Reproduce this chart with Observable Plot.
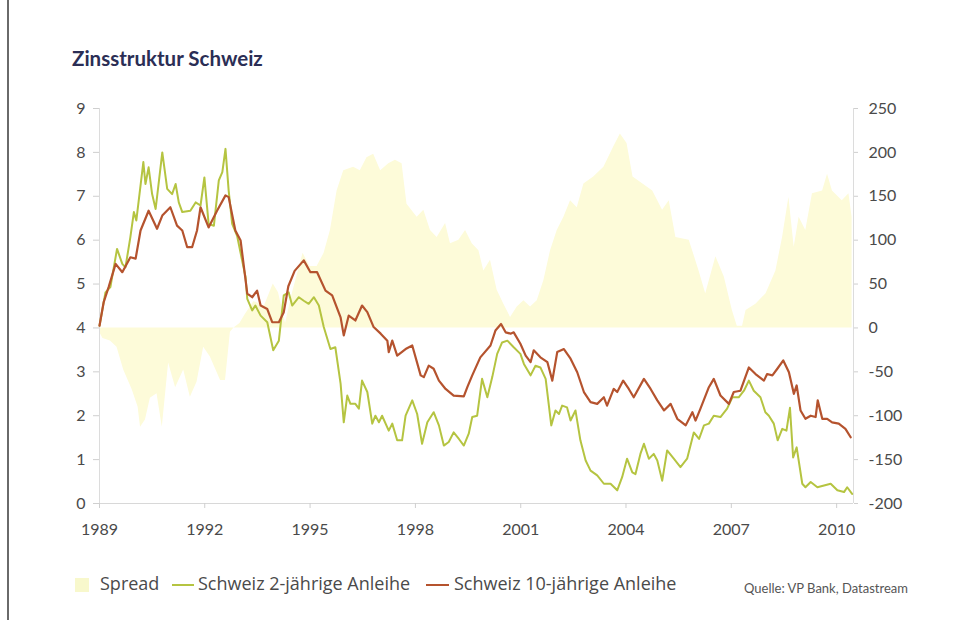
<!DOCTYPE html>
<html><head><meta charset="utf-8">
<script src="https://cdn.jsdelivr.net/npm/d3@7"></script>
<script src="https://cdn.jsdelivr.net/npm/@observablehq/plot@0.6"></script>
<style>
body{margin:0;background:#fff;font-family:Lato,"Open Sans",sans-serif;}
#page{position:relative;width:973px;height:620px;overflow:hidden;background:#fff;}
#border{position:absolute;left:7px;top:0;width:2px;height:620px;background:#6a6a6a;}
#title{position:absolute;left:72px;top:46px;font-size:20.5px;font-weight:700;color:#2b2e55;white-space:nowrap;}
#chart{position:absolute;left:0;top:90px;}
.lg{position:absolute;top:571px;font-family:"Open Sans",sans-serif;font-size:18px;color:#4a4a4a;white-space:nowrap;}
.sw{position:absolute;}
#src{position:absolute;left:744px;top:580px;font-size:13px;color:#555;white-space:nowrap;}
</style></head>
<body><div id="page">
<div id="border"></div>
<div id="title">Zinsstruktur Schweiz</div>
<div id="chart"></div>
<div class="sw" style="left:75px;top:578px;width:14px;height:14px;background:#f8f8cc;"></div>
<div class="lg" style="left:100px;">Spread</div>
<div class="sw" style="left:172px;top:584px;width:22px;height:2px;background:#b5c441;"></div>
<div class="lg" style="left:198px;">Schweiz 2-jährige Anleihe</div>
<div class="sw" style="left:426px;top:584px;width:23px;height:2px;background:#b5532e;"></div>
<div class="lg" style="left:454px;">Schweiz 10-jährige Anleihe</div>
<div id="src">Quelle: VP Bank, Datastream</div>
</div>
<script>
// 10-year bond yield (%)
const years10 = [1989.00,1989.12,1989.26,1989.46,1989.65,1989.88,1990.03,1990.17,1990.40,1990.64,1990.79,1991.02,1991.21,1991.36,1991.50,1991.64,1991.78,1991.88,1992.11,1992.35,1992.59,1992.68,1992.87,1993.02,1993.21,1993.35,1993.49,1993.59,1993.78,1993.92,1994.11,1994.25,1994.38,1994.56,1994.82,1995.01,1995.20,1995.44,1995.63,1995.87,1995.96,1996.10,1996.29,1996.48,1996.63,1996.81,1997.01,1997.20,1997.24,1997.34,1997.48,1997.72,1997.91,1998.15,1998.24,1998.38,1998.52,1998.67,1998.86,1999.09,1999.38,1999.48,1999.62,1999.85,2000.14,2000.28,2000.44,2000.57,2000.71,2000.80,2000.99,2001.14,2001.28,2001.37,2001.56,2001.76,2001.90,2002.04,2002.23,2002.42,2002.61,2002.80,2002.99,2003.18,2003.37,2003.46,2003.65,2003.75,2003.92,2004.08,2004.22,2004.51,2004.70,2004.89,2005.08,2005.27,2005.46,2005.70,2005.89,2005.98,2006.12,2006.36,2006.50,2006.69,2006.93,2007.07,2007.26,2007.50,2007.69,2007.93,2008.02,2008.17,2008.31,2008.48,2008.64,2008.78,2008.86,2008.97,2009.11,2009.26,2009.40,2009.46,2009.59,2009.73,2009.87,2010.06,2010.25,2010.40];
const yield10 = [4.05,4.59,4.93,5.46,5.27,5.61,5.58,6.22,6.67,6.26,6.56,6.75,6.33,6.22,5.84,5.84,6.22,6.75,6.29,6.67,7.02,6.98,6.22,5.99,4.78,4.70,4.85,4.51,4.43,4.13,4.13,4.36,4.95,5.30,5.54,5.27,5.27,4.85,4.74,4.24,3.83,4.28,4.17,4.51,4.36,4.02,3.87,3.71,3.45,3.71,3.37,3.52,3.60,2.92,2.88,3.14,3.07,2.80,2.61,2.46,2.44,2.65,2.92,3.33,3.60,3.94,4.09,3.90,3.87,3.90,3.64,3.37,3.22,3.49,3.33,3.22,2.80,3.45,3.52,3.30,2.99,2.54,2.31,2.27,2.42,2.23,2.61,2.54,2.80,2.61,2.42,2.84,2.61,2.35,2.12,2.27,1.93,1.78,2.08,1.89,2.16,2.65,2.84,2.46,2.27,2.54,2.57,3.10,2.95,2.80,2.95,2.92,3.07,3.26,2.99,2.50,2.69,2.12,1.93,2.00,1.97,2.35,1.93,1.93,1.85,1.82,1.70,1.51];

// 2-year bond yield (%)
const years2 = [1989.00,1989.17,1989.31,1989.50,1989.65,1989.74,1989.88,1989.98,1990.05,1990.25,1990.31,1990.40,1990.50,1990.60,1990.79,1990.93,1991.07,1991.17,1991.26,1991.36,1991.59,1991.74,1991.88,1991.99,1992.11,1992.26,1992.40,1992.50,1992.59,1992.68,1992.78,1992.92,1993.16,1993.21,1993.35,1993.44,1993.59,1993.78,1993.95,1994.11,1994.25,1994.39,1994.49,1994.68,1994.82,1994.96,1995.11,1995.25,1995.39,1995.58,1995.72,1995.87,1995.96,1996.06,1996.15,1996.29,1996.39,1996.48,1996.63,1996.77,1996.86,1996.96,1997.05,1997.24,1997.34,1997.48,1997.62,1997.72,1997.91,1998.05,1998.19,1998.34,1998.52,1998.67,1998.81,1998.95,1999.09,1999.24,1999.38,1999.52,1999.62,1999.76,1999.90,2000.05,2000.19,2000.33,2000.47,2000.62,2000.80,2000.99,2001.09,2001.28,2001.42,2001.56,2001.71,2001.87,2001.99,2002.09,2002.18,2002.32,2002.42,2002.56,2002.70,2002.85,2002.99,2003.18,2003.37,2003.56,2003.75,2003.89,2004.03,2004.18,2004.27,2004.41,2004.51,2004.65,2004.79,2004.89,2005.03,2005.17,2005.36,2005.55,2005.74,2005.93,2006.08,2006.22,2006.36,2006.50,2006.69,2006.88,2007.03,2007.21,2007.36,2007.50,2007.64,2007.83,2007.97,2008.07,2008.21,2008.32,2008.45,2008.57,2008.67,2008.76,2008.86,2009.02,2009.11,2009.26,2009.45,2009.64,2009.83,2010.02,2010.21,2010.30,2010.44];
const yield2 = [4.05,4.81,4.93,5.80,5.46,5.38,6.07,6.64,6.45,7.78,7.28,7.66,7.05,6.71,8.00,7.17,7.05,7.28,6.86,6.64,6.67,6.86,6.79,7.43,6.37,6.33,7.36,7.55,8.08,7.13,6.37,6.10,5.16,4.66,4.40,4.51,4.28,4.13,3.49,3.71,4.74,4.81,4.51,4.70,4.62,4.55,4.70,4.51,4.02,3.52,3.56,2.73,1.85,2.46,2.27,2.27,2.16,2.80,2.54,1.82,2.00,1.85,2.00,1.66,1.82,1.44,1.44,2.00,2.35,2.04,1.36,1.85,2.08,1.78,1.32,1.40,1.62,1.47,1.32,1.59,1.97,2.00,2.84,2.42,2.88,3.41,3.67,3.71,3.56,3.41,3.18,2.92,3.14,3.10,2.84,1.78,2.12,2.04,2.23,2.19,1.89,2.12,1.44,0.98,0.75,0.64,0.45,0.45,0.30,0.60,1.02,0.71,0.67,1.13,1.36,1.02,1.13,0.98,0.52,1.21,1.02,0.83,1.02,1.62,1.47,1.78,1.82,2.00,1.97,2.16,2.42,2.42,2.57,2.80,2.57,2.42,2.08,2.00,1.82,1.44,1.70,1.66,2.18,1.05,1.28,0.45,0.37,0.49,0.37,0.41,0.45,0.30,0.26,0.37,0.22];

// Spread 10y - 2y (basis points, right axis)
const yearsS = [1989.00,1989.10,1989.31,1989.50,1989.69,1989.93,1990.10,1990.17,1990.31,1990.45,1990.64,1990.79,1990.97,1991.17,1991.40,1991.59,1991.78,1991.97,1992.16,1992.45,1992.59,1992.73,1992.83,1993.00,1993.15,1993.40,1993.70,1993.95,1994.10,1994.30,1994.50,1994.80,1995.00,1995.20,1995.40,1995.58,1995.77,1995.96,1996.24,1996.43,1996.62,1996.81,1997.01,1997.24,1997.43,1997.62,1997.76,1998.05,1998.24,1998.43,1998.62,1998.86,1999.00,1999.24,1999.43,1999.62,1999.81,1999.95,2000.14,2000.33,2000.52,2000.71,2000.90,2001.09,2001.28,2001.47,2001.66,2001.85,2002.04,2002.23,2002.42,2002.61,2002.80,2003.08,2003.37,2003.65,2003.84,2004.03,2004.20,2004.48,2004.76,2005.04,2005.23,2005.42,2005.80,2006.08,2006.27,2006.56,2006.80,2007.03,2007.17,2007.32,2007.42,2007.70,2007.99,2008.27,2008.46,2008.64,2008.79,2008.93,2009.12,2009.31,2009.60,2009.74,2009.88,2010.16,2010.35,2010.44];
const spread = [-5,-12,-15,-22,-48,-70,-90,-113,-105,-80,-75,-113,-40,-68,-48,-79,-62,-22,-33,-60,-60,-5,0,5,15,30,25,50,40,5,40,85,70,70,85,111,156,179,183,179,194,198,179,187,191,187,141,126,134,111,103,119,96,100,111,96,88,65,77,43,27,12,24,31,24,31,54,88,111,126,145,137,164,172,183,206,221,210,172,164,156,134,145,103,100,65,39,81,58,20,2,2,20,27,39,65,103,149,92,126,111,153,156,175,156,145,153,126];

// Axis ticks
const leftTicks = [0,1,2,3,4,5,6,7,8,9];
const rightTickLabels = [-200,-150,-100,-50,0,50,100,150,200,250];
const xTickYears = [1989,1992,1995,1998,2001,2004,2007,2010];

const toDate = y => { const yr = Math.floor(y); const s = Date.UTC(yr,0,1), e = Date.UTC(yr+1,0,1); return new Date(s + (y - yr) * (e - s)); };
const rows10 = years10.map((t,i) => ({date: toDate(t), v: yield10[i]}));
const rows2 = years2.map((t,i) => ({date: toDate(t), v: yield2[i]}));
// spread is drawn on the right axis: 0 bp sits at 4 %, 50 bp per 1 % unit
const rowsS = yearsS.map((t,i) => ({date: toDate(t), v: 4 + spread[i] / 50}));

const xMin = toDate(1989.0), xMax = toDate(2010.48);

const chart = Plot.plot({
  width: 973, height: 458,
  marginLeft: 99, marginRight: 120, marginTop: 18, marginBottom: 45,
  x: {type: "utc", domain: [xMin, xMax], label: null},
  y: {domain: [0, 9], label: null},
  style: {fontFamily: "Lato, 'Open Sans', sans-serif", fontSize: "16px", color: "#4a4a4a", background: "transparent"},
  marks: [
    Plot.areaY(rowsS, {x: "date", y1: 4, y2: "v", fill: "#fdfbd9"}),
    Plot.ruleY([0], {x1: xMin, x2: xMax, stroke: "#d8d8d8"}),
    Plot.ruleX([xMin], {y1: 0, y2: 9, stroke: "#dcdcdc"}),
    Plot.ruleX([xMax], {y1: 0, y2: 9, stroke: "#dcdcdc"}),
    Plot.axisY({anchor: "left", label: null, ticks: leftTicks, tickSize: 6, tickPadding: 8, stroke: "#cfcfcf", fill: "#4a4a4a"}),
    Plot.axisY({anchor: "right", label: null, ticks: leftTicks, tickFormat: (d, i) => String(rightTickLabels[i]), tickSize: 4, tickPadding: 11, stroke: "#cfcfcf", fill: "#4a4a4a"}),
    Plot.axisX({label: null, ticks: xTickYears.map(toDate), tickFormat: d => String(d.getUTCFullYear()), tickSize: 5, tickPadding: 15, stroke: "#cfcfcf", fill: "#4a4a4a"}),
    Plot.lineY(rows2, {x: "date", y: "v", stroke: "#b5c441", strokeWidth: 2}),
    Plot.lineY(rows10, {x: "date", y: "v", stroke: "#b5532e", strokeWidth: 2.2})
  ]
});
document.getElementById("chart").appendChild(chart);
</script>
</body></html>
